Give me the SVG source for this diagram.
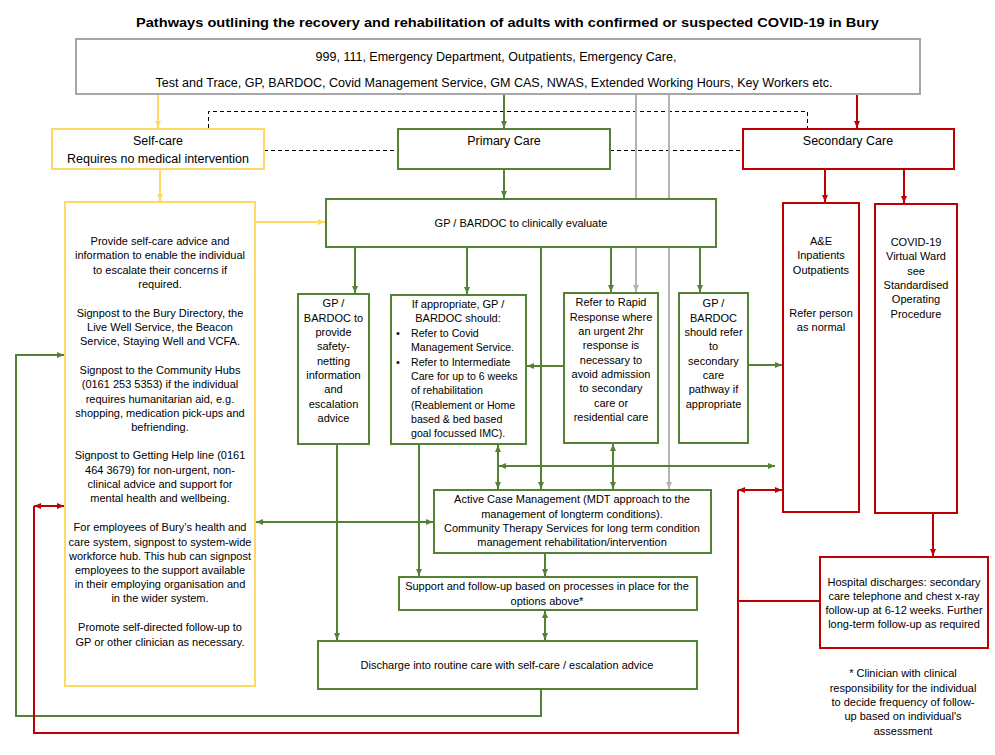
<svg xmlns="http://www.w3.org/2000/svg" width="995" height="755" viewBox="0 0 995 755">
<style>
text{font-family:"Liberation Sans",Arial,sans-serif;font-size:11px;fill:#000;text-anchor:middle}
.t{font-size:12.5px}
.title{font-size:13.5px;font-weight:bold;text-anchor:start}
.l{text-anchor:start}
.box{fill:#fff;stroke-width:2}
.g{stroke:#548235}
.y{stroke:#ffd966}
.r{stroke:#c00000}
.gr{stroke:#a6a6a6}
.c{fill:none;stroke-width:2}
.cg{stroke:#548235}
.cy{stroke:#ffd966}
.cr{stroke:#c00000}
.cgr{stroke:#b4b4b4}
.d{fill:none;stroke:#000;stroke-width:1;stroke-dasharray:4 3}
</style>
<defs>
<marker id="aG" markerUnits="userSpaceOnUse" markerWidth="7" markerHeight="7" viewBox="0 0 7 7" refX="7" refY="3.5" orient="auto-start-reverse"><path d="M0,0.5 L7,3.5 L0,6.5 z" fill="#548235"/></marker>
<marker id="aY" markerUnits="userSpaceOnUse" markerWidth="7" markerHeight="7" viewBox="0 0 7 7" refX="7" refY="3.5" orient="auto-start-reverse"><path d="M0,0.5 L7,3.5 L0,6.5 z" fill="#ffd966"/></marker>
<marker id="aR" markerUnits="userSpaceOnUse" markerWidth="7" markerHeight="7" viewBox="0 0 7 7" refX="7" refY="3.5" orient="auto-start-reverse"><path d="M0,0.5 L7,3.5 L0,6.5 z" fill="#c00000"/></marker>
<marker id="aGr" markerUnits="userSpaceOnUse" markerWidth="7" markerHeight="7" viewBox="0 0 7 7" refX="7" refY="3.5" orient="auto-start-reverse"><path d="M0,0.5 L7,3.5 L0,6.5 z" fill="#b4b4b4"/></marker>
</defs>
<rect width="995" height="755" fill="#fff"/>
<text class="title" x="136" y="27" textLength="743" lengthAdjust="spacingAndGlyphs">Pathways outlining the recovery and rehabilitation of adults with confirmed or suspected COVID-19 in Bury</text>

<g id="connectors">
<!-- dashed -->
<path class="d" d="M208.5,128 V111.5 H807.5 V128"/>
<path class="d" d="M264,150.5 H398"/>
<path class="d" d="M610,150.5 H743"/>
<!-- from top box -->
<path class="c cy" d="M158,94 V128" marker-end="url(#aY)"/>
<path class="c cg" d="M504,94 V128" marker-end="url(#aG)"/>
<path class="c cr" d="M857,94 V128" marker-end="url(#aR)"/>
<path class="c cgr" d="M636,94 V199"/>
<path class="c cgr" d="M669,94 V199"/>
<path class="c cgr" d="M636,247 V292" marker-end="url(#aGr)"/>
<path class="c cgr" d="M669,247 V489" marker-end="url(#aGr)"/>
<!-- self care -->
<path class="c cy" d="M160,169 V201" marker-end="url(#aY)"/>
<path class="c cy" d="M256,222 H325" marker-end="url(#aY)"/>
<!-- primary -->
<path class="c cg" d="M504,169 V198" marker-end="url(#aG)"/>
<!-- secondary -->
<path class="c cr" d="M825,169 V202" marker-end="url(#aR)"/>
<path class="c cr" d="M904,169 V203" marker-end="url(#aR)"/>
<path class="c cr" d="M933,513 V556" marker-end="url(#aR)"/>
<!-- from evaluate -->
<path class="c cg" d="M355,247 V293" marker-end="url(#aG)"/>
<path class="c cg" d="M467,247 V294" marker-end="url(#aG)"/>
<path class="c cg" d="M611,247 V292" marker-end="url(#aG)"/>
<path class="c cg" d="M700,247 V292" marker-end="url(#aG)"/>
<path class="c cg" d="M541,248 V489" marker-end="url(#aG)"/>
<!-- side arrows -->
<path class="c cg" d="M564,366 H527" marker-end="url(#aG)"/>
<path class="c cg" d="M748,365 H782" marker-end="url(#aG)"/>
<path class="c cg" d="M499,466 H775" marker-start="url(#aG)" marker-end="url(#aG)"/>
<path class="c cg" d="M498,445 V489" marker-start="url(#aG)" marker-end="url(#aG)"/>
<path class="c cg" d="M613,444 V489" marker-start="url(#aG)" marker-end="url(#aG)"/>
<path class="c cg" d="M256,522 H433" marker-start="url(#aG)" marker-end="url(#aG)"/>
<path class="c cg" d="M337,445 V640" marker-end="url(#aG)"/>
<path class="c cg" d="M419,445 V576" marker-end="url(#aG)"/>
<path class="c cg" d="M545,554 V576" marker-end="url(#aG)"/>
<path class="c cg" d="M545,611 V640" marker-start="url(#aG)" marker-end="url(#aG)"/>
<path class="c cg" d="M541,690 V716 H16 V355 H64" marker-end="url(#aG)"/>
<!-- red loop -->
<path class="c cr" d="M820,601 H738"/>
<path class="c cr" d="M738,490 V733 H34 V506"/>
<path class="c cr" d="M738,490 H782" marker-start="url(#aR)" marker-end="url(#aR)"/>
<path class="c cr" d="M34,506 H64" marker-start="url(#aR)" marker-end="url(#aR)"/>
</g>

<g id="sources">
<rect class="box gr" x="76" y="39" width="844" height="55"/>
<text class="t" x="496" y="61">999, 111, Emergency Department, Outpatients, Emergency Care,</text>
<text class="t" x="494" y="87" textLength="677" lengthAdjust="spacingAndGlyphs">Test and Trace, GP, BARDOC, Covid Management Service, GM CAS, NWAS, Extended Working Hours, Key Workers etc.</text>
</g>

<g id="self-care">
<rect class="box y" x="52" y="129" width="212" height="40"/>
<text class="t" x="158" y="145">Self-care</text>
<text class="t" x="158" y="163">Requires no medical intervention</text>
</g>

<g id="primary-care">
<rect class="box g" x="398" y="129" width="212" height="40"/>
<text class="t" x="504" y="145">Primary Care</text>
</g>

<g id="secondary-care">
<rect class="box r" x="743" y="129" width="211" height="40"/>
<text class="t" x="848" y="145">Secondary Care</text>
</g>

<g id="self-care-advice">
<rect class="box y" x="65" y="202" width="190" height="484"/>
<text x="160" y="245">Provide self-care advice and</text>
<text x="160" y="259">information to enable the individual</text>
<text x="160" y="274">to escalate their concerns if</text>
<text x="160" y="288">required.</text>
<text x="160" y="317">Signpost to the Bury Directory, the</text>
<text x="160" y="331">Live Well Service, the Beacon</text>
<text x="160" y="345">Service, Staying Well and VCFA.</text>
<text x="160" y="374">Signpost to the Community Hubs</text>
<text x="160" y="388">(0161 253 5353) if the individual</text>
<text x="160" y="403">requires humanitarian aid, e.g.</text>
<text x="160" y="417">shopping, medication pick-ups and</text>
<text x="160" y="431">befriending.</text>
<text x="160" y="459">Signpost to Getting Help line (0161</text>
<text x="160" y="474">464 3679) for non-urgent, non-</text>
<text x="160" y="488">clinical advice and support for</text>
<text x="160" y="502">mental health and wellbeing.</text>
<text x="160" y="531">For employees of Bury’s health and</text>
<text x="160" y="546">care system, signpost to system-wide</text>
<text x="160" y="560">workforce hub. This hub can signpost</text>
<text x="160" y="574">employees to the support available</text>
<text x="160" y="588">in their employing organisation and</text>
<text x="160" y="602">in the wider system.</text>
<text x="160" y="631">Promote self-directed follow-up to</text>
<text x="160" y="646">GP or other clinician as necessary.</text>
</g>

<g id="evaluate">
<rect class="box g" x="326" y="199" width="390" height="48"/>
<text x="521" y="227">GP / BARDOC to clinically evaluate</text>
</g>

<g id="safety-netting">
<rect class="box g" x="298" y="294" width="71" height="150"/>
<text x="333.5" y="307">GP /</text>
<text x="333.5" y="322">BARDOC to</text>
<text x="333.5" y="336">provide</text>
<text x="333.5" y="350">safety-</text>
<text x="333.5" y="365">netting</text>
<text x="333.5" y="379">information</text>
<text x="333.5" y="393">and</text>
<text x="333.5" y="408">escalation</text>
<text x="333.5" y="422">advice</text>
</g>

<g id="if-appropriate">
<rect class="box g" x="391" y="295" width="135" height="149"/>
<text x="458" y="308">If appropriate, GP /</text>
<text x="458" y="322">BARDOC should:</text>
<text class="l" x="396" y="337">•</text>
<text class="l" x="411" y="337" style="font-size:10.6px">Refer to Covid</text>
<text class="l" x="411" y="351" style="font-size:10.6px">Management Service.</text>
<text class="l" x="396" y="366">•</text>
<text class="l" x="411" y="366" style="font-size:10.6px">Refer to Intermediate</text>
<text class="l" x="411" y="380" style="font-size:10.6px">Care for up to 6 weeks</text>
<text class="l" x="411" y="394" style="font-size:10.6px">of rehabilitation</text>
<text class="l" x="411" y="409" style="font-size:10.6px">(Reablement or Home</text>
<text class="l" x="411" y="423" style="font-size:10.6px">based &amp; bed based</text>
<text class="l" x="411" y="437" style="font-size:10.6px">goal focussed IMC).</text>
</g>

<g id="rapid-response">
<rect class="box g" x="564" y="293" width="94" height="150"/>
<text x="611" y="306">Refer to Rapid</text>
<text x="611" y="321">Response where</text>
<text x="611" y="335">an urgent 2hr</text>
<text x="611" y="349">response is</text>
<text x="611" y="364">necessary to</text>
<text x="611" y="378">avoid admission</text>
<text x="611" y="392">to secondary</text>
<text x="611" y="407">care or</text>
<text x="611" y="421">residential care</text>
</g>

<g id="refer-secondary">
<rect class="box g" x="679" y="293" width="69" height="150"/>
<text x="713.5" y="307">GP /</text>
<text x="713.5" y="322">BARDOC</text>
<text x="713.5" y="336">should refer</text>
<text x="713.5" y="350">to</text>
<text x="713.5" y="365">secondary</text>
<text x="713.5" y="379">care</text>
<text x="713.5" y="393">pathway if</text>
<text x="713.5" y="408">appropriate</text>
</g>

<g id="ae">
<rect class="box r" x="783" y="203" width="76" height="309"/>
<text x="821" y="245">A&amp;E</text>
<text x="821" y="259">Inpatients</text>
<text x="821" y="274">Outpatients</text>
<text x="821" y="317">Refer person</text>
<text x="821" y="331">as normal</text>
</g>

<g id="virtual-ward">
<rect class="box r" x="875" y="204" width="82" height="309"/>
<text x="916" y="246">COVID-19</text>
<text x="916" y="260">Virtual Ward</text>
<text x="916" y="275">see</text>
<text x="916" y="289">Standardised</text>
<text x="916" y="303">Operating</text>
<text x="916" y="318">Procedure</text>
</g>

<g id="active-case">
<rect class="box g" x="434" y="490" width="277" height="63"/>
<text x="572" y="503">Active Case Management (MDT approach to the</text>
<text x="572" y="518">management of longterm conditions).</text>
<text x="572" y="532">Community Therapy Services for long term condition</text>
<text x="572" y="546">management rehabilitation/intervention</text>
</g>

<g id="support">
<rect class="box g" x="399" y="577" width="298" height="33"/>
<text x="547" y="590">Support and follow-up based on processes in place for the</text>
<text x="547" y="605">options above*</text>
</g>

<g id="discharge">
<rect class="box g" x="318" y="641" width="379" height="48"/>
<text x="507" y="669">Discharge into routine care with self-care / escalation advice</text>
</g>

<g id="hospital">
<rect class="box r" x="820" y="557" width="168" height="91"/>
<text x="904" y="586">Hospital discharges: secondary</text>
<text x="904" y="600">care telephone and chest x-ray</text>
<text x="904" y="614">follow-up at 6-12 weeks. Further</text>
<text x="904" y="628">long-term follow-up as required</text>
</g>

<g id="footnote">
<text x="903" y="677">* Clinician with clinical</text>
<text x="903" y="692">responsibility for the individual</text>
<text x="903" y="706">to decide frequency of follow-</text>
<text x="903" y="720">up based on individual's</text>
<text x="903" y="735">assessment</text>
</g>
</svg>
